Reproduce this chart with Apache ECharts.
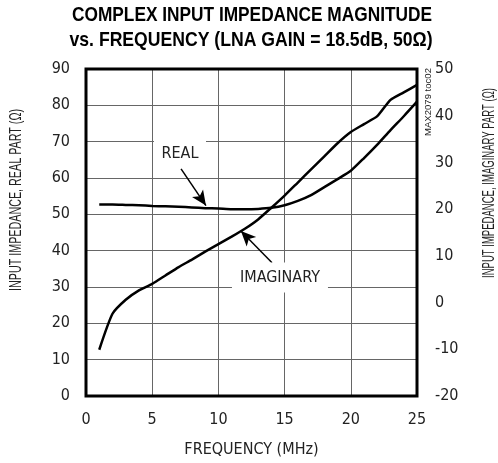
<!DOCTYPE html>
<html>
<head>
<meta charset="utf-8">
<script src="https://cdn.jsdelivr.net/npm/echarts@6/dist/echarts.min.js"></script>
<style>
  html, body { margin: 0; padding: 0; background: #fff; }
  #chart { width: 498px; height: 463px; }
</style>
</head>
<body>
<div id="chart"></div>
<script>
// frequency (MHz)
const freq = [1, 2, 3, 4, 5, 6, 7, 8, 9, 10, 11, 12, 13, 14, 15, 16, 17, 18, 19, 20, 21, 22, 23, 24, 25];
// real part, left axis (ohm)
const realPart = [52.7, 52.7, 52.6, 52.5, 52.3, 52.2, 52.1, 51.9, 51.7, 51.6, 51.4, 51.4, 51.5, 51.8, 52.5, 53.7, 55.3, 57.5, 59.7, 62.0, 65.5, 69.2, 73.2, 77.0, 81.0];
// imaginary part, right axis (ohm)
const imagPart = [-10.1, -2.4, 0.6, 2.6, 4.0, 5.8, 7.6, 9.2, 10.9, 12.5, 14.1, 15.8, 17.8, 20.3, 22.9, 25.7, 28.5, 31.3, 34.1, 36.5, 38.2, 39.9, 43.4, 45.0, 46.6];
const xTicks = [0, 25, 5];
const leftTicks = [0, 90, 10];
const rightTicks = [-20, 50, 10];

const FONT = '"DejaVu Sans Condensed", "Liberation Sans", sans-serif';
const NARROW = '"Liberation Sans", sans-serif';

// squeeze a text horizontally so it fits a given width (narrow typeface look)
const ctx = document.createElement('canvas').getContext('2d');
function fitScale(text, font, width) {
  ctx.font = font;
  return width / ctx.measureText(text).width;
}

function squeezedText(text, font, width, x, y, rotation, fill) {
  const s = fitScale(text, font, width);
  return {
    type: 'text',
    x: x,
    y: y,
    rotation: rotation,
    scaleX: s,
    style: {
      text: text,
      font: font,
      fill: fill,
      align: 'center',
      verticalAlign: 'middle'
    }
  };
}

const chart = echarts.init(document.getElementById('chart'));

const realData = freq.map((f, i) => [f, realPart[i]]);
const imagData = freq.map((f, i) => [f, imagPart[i]]);

const titleFont = 'bold 21px ' + NARROW;
const nameFont = '16px ' + NARROW;

const option = {
  animation: false,
  grid: {
    left: 86,
    right: 81,
    top: 69,
    bottom: 63,
    show: true,
    borderColor: '#000',
    borderWidth: 3,
    z: 5
  },
  xAxis: {
    type: 'value',
    min: xTicks[0],
    max: xTicks[1],
    interval: xTicks[2],
    name: 'FREQUENCY (MHz)',
    nameLocation: 'middle',
    nameGap: 46,
    nameTextStyle: { fontFamily: FONT, fontSize: 16, color: '#222' },
    axisLine: { show: false },
    axisTick: { show: false },
    axisLabel: { margin: 16, fontFamily: FONT, fontSize: 16, color: '#222' },
    splitLine: { lineStyle: { color: '#666', width: 1 } }
  },
  yAxis: [
    {
      type: 'value',
      min: leftTicks[0],
      max: leftTicks[1],
      interval: leftTicks[2],
      axisLine: { show: false },
      axisTick: { show: false },
      axisLabel: { margin: 16, fontFamily: FONT, fontSize: 16, color: '#222' },
      splitLine: { lineStyle: { color: '#666', width: 1 } }
    },
    {
      type: 'value',
      min: rightTicks[0],
      max: rightTicks[1],
      interval: rightTicks[2],
      position: 'right',
      axisLine: { show: false },
      axisTick: { show: false },
      axisLabel: { margin: 18, fontFamily: FONT, fontSize: 16, color: '#222' },
      splitLine: { show: false }
    }
  ],
  series: [
    {
      name: 'REAL',
      type: 'line',
      yAxisIndex: 0,
      data: realData,
      smooth: 0.2,
      showSymbol: false,
      lineStyle: { color: '#000', width: 2.5 },
      markPoint: {
        silent: true,
        symbol: 'rect',
        itemStyle: { color: '#fff' },
        label: {
          show: true,
          position: 'inside',
          fontFamily: FONT,
          fontSize: 16,
          color: '#222'
        },
        data: [
          { coord: [7.1, 66.6], symbolSize: [52, 26], value: 'REAL', label: { formatter: 'REAL' } },
          { coord: [14.65, 32.6], symbolSize: [96, 30], value: 'IMAGINARY', label: { formatter: 'IMAGINARY' } }
        ]
      },
      markLine: {
        silent: true,
        symbol: ['none', 'arrow'],
        symbolSize: [10, 15],
        lineStyle: { color: '#000', width: 1.5, type: 'solid' },
        label: { show: false },
        data: [
          [{ coord: [7.18, 62.5] }, { coord: [9.06, 52.4] }],
          [{ coord: [14.05, 36.7] }, { coord: [11.7, 45.4] }]
        ]
      }
    },
    {
      name: 'IMAGINARY',
      type: 'line',
      yAxisIndex: 1,
      data: imagData,
      smooth: 0.2,
      showSymbol: false,
      lineStyle: { color: '#000', width: 2.5 }
    }
  ],
  graphic: [
    squeezedText('COMPLEX INPUT IMPEDANCE MAGNITUDE', titleFont, 360, 252, 15, 0, '#000'),
    squeezedText('vs. FREQUENCY (LNA GAIN = 18.5dB, 50Ω)', titleFont, 363, 251, 40, 0, '#000'),
    squeezedText('INPUT IMPEDANCE, REAL PART (Ω)', nameFont, 182, 17, 200, Math.PI / 2, '#222'),
    squeezedText('INPUT IMPEDANCE, IMAGINARY PART (Ω)', nameFont, 190, 490, 183, Math.PI / 2, '#222'),
    squeezedText('MAX2079 toc02', '9px ' + NARROW, 68, 429, 102, Math.PI / 2, '#222')
  ]
};

chart.setOption(option);
</script>
</body>
</html>
